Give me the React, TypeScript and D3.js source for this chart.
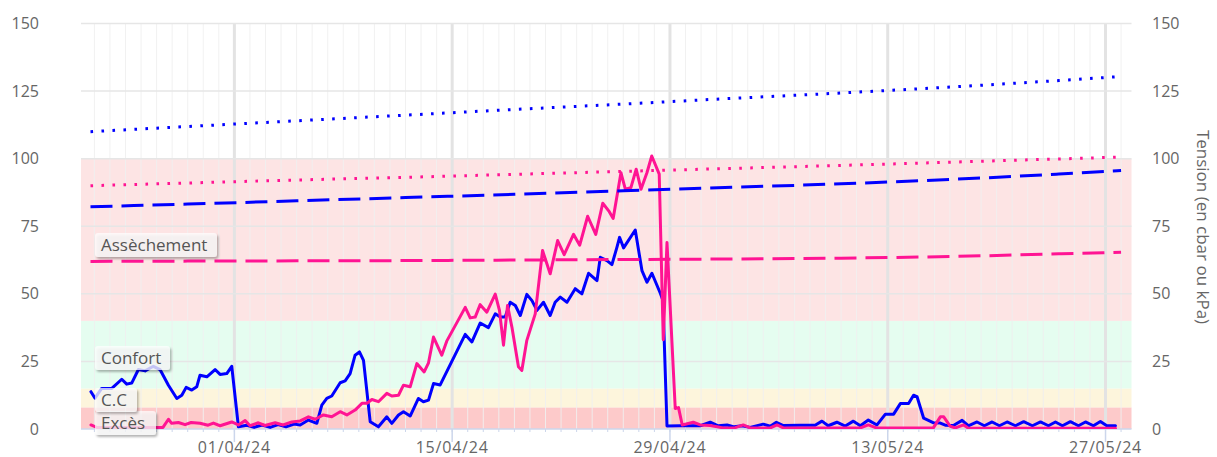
import React from 'react';
import * as d3 from 'd3';

const W = 1217;
const H = 457;
const FONT = '"Open Sans", sans-serif';

// x values are days counted from 01/04/24 (UTC), y values are tensions in cbar
const DAY = 86400000;
const ORIGIN = Date.UTC(2024, 3, 1);
const at = (d: number) => new Date(ORIGIN + d * DAY);

const blueSeries: [number, number][] = [
  [-9.22, 13.8], [-8.96, 11.4], [-8.53, 15], [-7.88, 15], [-7.24, 18.4], [-6.92, 16.6], [-6.6, 17],
  [-6.17, 22], [-5.74, 21.5], [-5.21, 23.2], [-4.78, 22], [-4.24, 16.2], [-3.7, 11.3], [-3.38, 12.5],
  [-3.1, 15.4], [-2.74, 14.4], [-2.42, 15.6], [-2.21, 19.9], [-1.77, 19.3], [-1.24, 22], [-0.92, 20.2],
  [-0.49, 20.5], [-0.17, 23.2], [0.26, 0.8], [0.8, 1.4], [1.27, 0.6], [1.78, 1.5], [2.3, 0.6], [2.81, 1.6],
  [3.32, 0.8], [3.84, 1.8], [4.23, 1.5], [4.76, 3.3], [5.3, 2.1], [5.62, 8.8], [5.94, 11.3], [6.26, 12.2],
  [6.8, 17.1], [7.12, 17.8], [7.44, 20.5], [7.76, 27.3], [8.04, 28.5], [8.3, 25.4], [8.73, 2.7], [9.26, 0.8],
  [9.8, 4.5], [10.12, 2.1], [10.55, 5.2], [10.87, 6.4], [11.3, 4.8], [11.83, 11.3], [12.15, 10.1],
  [12.48, 10.7], [12.8, 16.8], [13.23, 16.3], [14.84, 35], [15.27, 32.2], [15.8, 39.2], [16.33, 37.5],
  [16.77, 42.6], [17.09, 41.4], [17.41, 41.4], [17.73, 46.9], [18.06, 45.7], [18.38, 42], [18.8, 49.8],
  [19.13, 47.5], [19.45, 43.9], [19.87, 46.9], [20.3, 42], [20.62, 46.9], [20.95, 48.8], [21.38, 46.9],
  [21.91, 51.9], [22.34, 50], [22.77, 57.6], [23.31, 54.9], [23.52, 63.5], [23.95, 62.3], [24.27, 60.8],
  [24.59, 67.2], [24.76, 70.9], [25.02, 67], [25.77, 73.6], [26.2, 58.6], [26.52, 54.3], [26.84, 57.6],
  [27.38, 50.2], [27.55, 47.5], [27.81, 1.1], [28.66, 1.2], [29.95, 1.2], [30.59, 2.5], [31.1, 1.2],
  [31.67, 1.5], [32.14, 0.8], [32.63, 1.2], [33.16, 0.6], [34, 1.8], [34.45, 1], [34.84, 2.5], [35.29, 1.3],
  [36.36, 1.4], [37.33, 1.4], [37.77, 2.9], [38.17, 1.2], [38.73, 2.5], [39.27, 1.1], [39.79, 2.9],
  [40.24, 1.2], [40.75, 3.3], [41.31, 1.5], [41.85, 5.5], [42.38, 5.5], [42.81, 9.4], [43.34, 9.4],
  [43.66, 12.5], [43.88, 12], [44.31, 4], [44.95, 2.3], [45.38, 2.2], [45.7, 1.4], [46.22, 1.3],
  [46.78, 3.2], [47.18, 1.2], [47.74, 2.6], [48.21, 1.2], [48.71, 2.6], [49.18, 1.2], [49.67, 2.6],
  [50.21, 1.2], [50.74, 2.7], [51.3, 1.2], [51.82, 2.6], [52.33, 1.2], [52.78, 2.6], [53.23, 1.2],
  [53.74, 2.7], [54.26, 1.2], [54.71, 2.6], [55.22, 1.2], [55.67, 2.8], [56.06, 1.3], [56.64, 1.2],
];

const pinkSeries: [number, number][] = [
  [-9.22, 1.5], [-8.85, 0.6], [-4.59, 0.6], [-4.24, 3.6], [-4.03, 2.1], [-3.6, 2.4], [-3.17, 1.6],
  [-2.78, 2.4], [-2.21, 2.1], [-1.69, 1.4], [-1.35, 2.2], [-0.92, 1.2], [-0.17, 2.6], [0.26, 1.5],
  [0.69, 3.1], [1.01, 1.2], [1.54, 2.3], [1.97, 1.3], [2.62, 2.3], [3.13, 1.5], [3.69, 2.6], [4.23, 3],
  [4.76, 4.5], [5.19, 3.6], [5.72, 5.2], [6.26, 4.5], [6.8, 6.4], [7.23, 5.2], [7.76, 7], [8.2, 9.5],
  [8.52, 9.5], [8.84, 10.9], [9.26, 10.1], [9.8, 13.2], [10.12, 12.2], [10.55, 12.5], [10.87, 16.2],
  [11.3, 15.6], [11.73, 24.2], [12.2, 21.1], [12.48, 24.5], [12.8, 34], [13.33, 27.3], [13.65, 32.5],
  [14.84, 45], [15.16, 41.1], [15.48, 41.4], [15.8, 46], [16.23, 43.2], [16.77, 49.9], [17.04, 43.9],
  [17.3, 31], [17.56, 45.7], [17.84, 37.7], [18.26, 23], [18.48, 21.7], [18.8, 32.8], [19.34, 42.6],
  [19.81, 66], [20.3, 57.4], [20.78, 69.7], [21.2, 64.5], [21.8, 72], [22.2, 68], [22.71, 78.7],
  [23.23, 72], [23.68, 83.5], [24.1, 80.4], [24.35, 77.9], [24.85, 94.8], [25.13, 88.7], [25.49, 89.3],
  [25.83, 96.1], [26.14, 88.7], [26.52, 94.8], [26.83, 101], [27.31, 94.3], [27.57, 33], [27.81, 69],
  [28.34, 7.6], [28.55, 7.9], [28.79, 1.5], [29.5, 2.5], [29.95, 1.5], [30.59, 1.3], [31.43, 0.4],
  [32.2, 0.5], [32.71, 1.5], [33.16, 0.4], [34.45, 0.4], [34.88, 1.5], [35.29, 0.4], [40.24, 0.4],
  [40.75, 1.5], [41.27, 0.4], [44.93, 0.4], [45.38, 4.5], [45.6, 4.5], [46.02, 1], [46.34, 0.4],
  [46.88, 1.5], [47.18, 0.3], [56.64, 0.3],
];

// threshold curves, read at these days
const thresholdDays = [-9.25, -3, 4, 11, 18, 25, 32, 39, 46, 53, 57];
const blueDotted = [110, 111.9, 114, 116.1, 118.2, 120.2, 122.3, 124.3, 126.5, 128.9, 130.4];
const pinkDotted = [90, 91, 92.1, 93.1, 94.2, 95.3, 96.4, 97.5, 98.7, 99.9, 100.6];
const blueDashed = [82.2, 83.2, 84.4, 85.6, 86.8, 88.1, 89.4, 90.7, 92.3, 94.3, 95.6];
const pinkDashed = [62, 62.1, 62.2, 62.3, 62.5, 62.7, 62.9, 63.2, 63.8, 64.8, 65.4];

// soil state bands
const bandLimits = [0, 8, 15, 40, 100];
const bandColors = ['#fdcaca', '#fdf5dc', '#e5fdf0', '#fde4e4'];
const bandNames = ['Excès', 'C.C', 'Confort', 'Assèchement'];

const yTicks = [0, 25, 50, 75, 100, 125, 150];
const majorDays = [0, 14, 28, 42, 56];

// label boxes (pixel layout)
const labelBoxes = [
  { top: 411, w: 61 },
  { top: 388, w: 42 },
  { top: 346, w: 75 },
  { top: 233, w: 122 },
];

export default function App() {
  const x = d3.scaleUtc().domain([at(-9.86), at(57.67)]).range([81, 1131.5]);
  const y = d3.scaleLinear().domain([0, 150]).range([429, 23.5]);
  const [x0, x1] = x.range();
  const fmt = d3.utcFormat('%d/%m/%y');

  const seriesLine = d3
    .line<[number, number]>()
    .x(d => x(at(d[0])))
    .y(d => y(d[1]));

  const thresholdLine = (vals: number[]) =>
    d3
      .line<number>()
      .x((_, i) => x(at(thresholdDays[i])))
      .y(v => y(v))
      .curve(d3.curveMonotoneX)(vals) || '';

  const dailyDays = d3.range(-9, 58);

  return (
    <svg
      width={W}
      height={H}
      style={{ position: 'absolute', left: 0, top: 0, background: '#fff', fontFamily: FONT }}
    >
      <defs>
        <clipPath id="plot">
          <rect x={x0} y={y(150)} width={x1 - x0} height={y(0) - y(150)} />
        </clipPath>
        <filter id="shadow" x="-20%" y="-30%" width="140%" height="170%">
          <feDropShadow dx="1.5" dy="2" stdDeviation="1.3" floodColor="#000" floodOpacity="0.4" />
        </filter>
      </defs>

      {/* bands */}
      {bandColors.map((c, i) => (
        <rect
          key={'b' + i}
          x={x0}
          y={y(bandLimits[i + 1])}
          width={x1 - x0}
          height={y(bandLimits[i]) - y(bandLimits[i + 1])}
          fill={c}
        />
      ))}

      {/* daily grid */}
      {dailyDays.map(d => (
        <line
          key={'g' + d}
          x1={x(at(d))}
          x2={x(at(d))}
          y1={y(150)}
          y2={y(0)}
          stroke="#f0f0f0"
          strokeOpacity={0.9}
          strokeWidth={1}
        />
      ))}
      {majorDays.map(d => (
        <line
          key={'m' + d}
          x1={x(at(d))}
          x2={x(at(d))}
          y1={y(150)}
          y2={y(0)}
          stroke="#e3e3e3"
          strokeWidth={3}
        />
      ))}
      {yTicks.slice(1).map(t => (
        <line key={'h' + t} x1={x0} x2={x1} y1={y(t)} y2={y(t)} stroke="#e6e6e6" strokeWidth={1.5} />
      ))}

      {/* x axis line and ticks */}
      <line x1={x0} x2={x1} y1={y(0)} y2={y(0)} stroke="#ccd6eb" strokeWidth={1.5} />
      {dailyDays.map(d => (
        <line key={'t' + d} x1={x(at(d))} x2={x(at(d))} y1={y(0)} y2={y(0) + 3} stroke="#ccd6eb" />
      ))}
      {majorDays.map(d => (
        <line key={'T' + d} x1={x(at(d))} x2={x(at(d))} y1={y(0)} y2={y(0) + 13} stroke="#ccd6eb" strokeWidth={1.5} />
      ))}

      {/* series */}
      <g clipPath="url(#plot)" fill="none" strokeLinejoin="round" strokeLinecap="round">
        <path d={seriesLine(blueSeries) || ''} stroke="#0000ff" strokeWidth={3} />
        <path d={seriesLine(pinkSeries) || ''} stroke="#ff1493" strokeWidth={3} />
        <path d={thresholdLine(blueDotted)} stroke="#0000ff" strokeWidth={3} strokeDasharray="2.6 8.4" strokeLinecap="butt" />
        <path d={thresholdLine(pinkDotted)} stroke="#ff1493" strokeWidth={3} strokeDasharray="2.6 8.4" strokeLinecap="butt" />
        <path d={thresholdLine(blueDashed)} stroke="#0000ff" strokeWidth={3} strokeDasharray="22 9" strokeLinecap="butt" />
        <path d={thresholdLine(pinkDashed)} stroke="#ff1493" strokeWidth={3} strokeDasharray="22 9" strokeLinecap="butt" />
      </g>

      {/* band labels */}
      {bandNames.map((name, i) => {
        const b = labelBoxes[i];
        return (
          <g key={'l' + i}>
            <rect x={95} y={b.top} width={b.w} height={24} rx={3} fill="#fff" fillOpacity={0.72} filter="url(#shadow)" />
            <text x={101} y={b.top + 18} fontSize={17} fill="#555">
              {name}
            </text>
          </g>
        );
      })}

      {/* y axes */}
      {yTicks.map(t => (
        <g key={'y' + t} fontSize={16} fill="#666">
          <text x={39} y={y(t) + 5.5} textAnchor="end">
            {t}
          </text>
          <text x={1152} y={y(t) + 5.5}>
            {t}
          </text>
        </g>
      ))}
      <text
        transform={`translate(1197, 227) rotate(90)`}
        textAnchor="middle"
        fontSize={17}
        fill="#666"
      >
        Tension (en cbar ou kPa)
      </text>

      {/* x labels */}
      {majorDays.map(d => (
        <text
          key={'x' + d}
          x={x(at(d))}
          y={453}
          textAnchor="middle"
          fontSize={16}
          letterSpacing={0.8}
          fill="#666"
        >
          {fmt(at(d))}
        </text>
      ))}
    </svg>
  );
}
